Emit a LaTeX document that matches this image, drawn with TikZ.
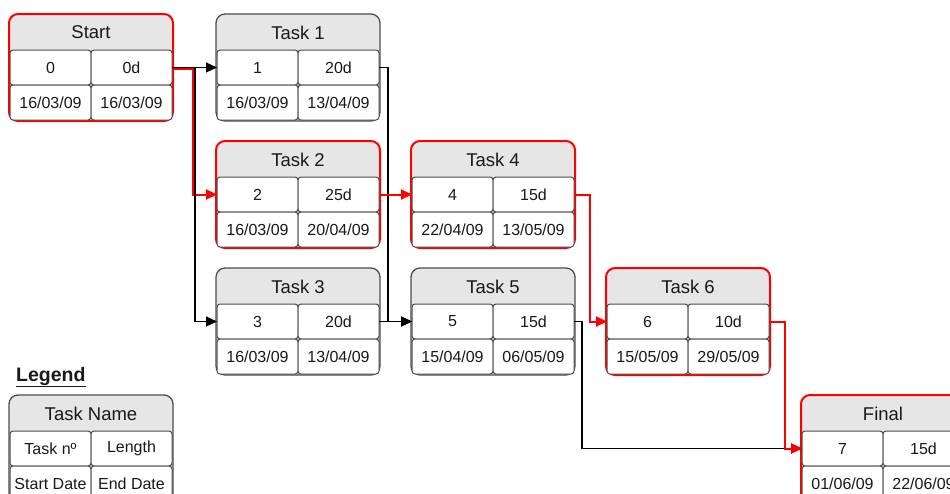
\documentclass[tikz,border=0pt]{standalone}
\usepackage{fontspec}
\setmainfont{Liberation Sans}
\usetikzlibrary{arrows.meta}

\definecolor{critred}{RGB}{255,0,0}
\definecolor{boxline}{RGB}{77,77,77}
\definecolor{headfill}{RGB}{230,230,230}
\definecolor{inktext}{RGB}{25,25,25}

\tikzset{
  taskframe/.style={rectangle, rounded corners=9pt, fill=headfill, minimum width=164pt,
    minimum height=107pt, inner sep=0pt, outer sep=0pt, anchor=north west},
  plainframe/.style={taskframe, draw=boxline, line width=1.3pt},
  critframe/.style={taskframe, draw=critred, line width=2pt},
  headtext/.style={font=\fontsize{18.5}{20}\selectfont, text=inktext},
  cell/.style={rectangle, draw=boxline, fill=white, rounded corners=3pt, line width=1pt,
    minimum width=81pt, minimum height=35pt, inner sep=0pt, outer sep=0pt,
    anchor=north west, font=\fontsize{16}{18}\selectfont, text=inktext},
  link/.style={draw=black, line width=1.1pt, -{Triangle[length=11pt,width=10pt]}},
  critlink/.style={draw=critred, line width=2pt, -{Triangle[length=11pt,width=10pt]}}
}

% one task box: id, top left, name, number, length, start, end, frame style
\newcommand{\tasknet}[8]{%
  \node[#8] (#1) at (#2) {};
  \node[headtext] (#1-name) at ([yshift=-18.5pt]#1.north) {#3};
  \node[cell] (#1-num) at ([xshift=1pt,yshift=-36pt]#1.north west) {#4};
  \node[cell] (#1-len) at (#1-num.north east) {#5};
  \node[cell] (#1-sd) at (#1-num.south west) {#6};
  \node[cell] (#1-ed) at (#1-sd.north east) {#7};
}

\begin{document}
\begin{tikzpicture}[x=1pt, y=-1pt]
        \useasboundingbox (0,0) rectangle (950,493);
        \clip (0,0) rectangle (950,493);

        % 1. Task boxes of the network
        \tasknet{start}{9,14}{Start}{0}{0d}{16/03/09}{16/03/09}{critframe}
        \tasknet{t1}{216,14}{Task 1}{1}{20d}{16/03/09}{13/04/09}{plainframe}
        \tasknet{t2}{216,141}{Task 2}{2}{25d}{16/03/09}{20/04/09}{critframe}
        \tasknet{t3}{216,268}{Task 3}{3}{20d}{16/03/09}{13/04/09}{plainframe}
        \tasknet{t4}{411,141}{Task 4}{4}{15d}{22/04/09}{13/05/09}{critframe}
        \tasknet{t5}{411,268}{Task 5}{5}{15d}{15/04/09}{06/05/09}{plainframe}
        \tasknet{t6}{606,268}{Task 6}{6}{10d}{15/05/09}{29/05/09}{critframe}
        \tasknet{final}{801,395}{Final}{7}{15d}{01/06/09}{22/06/09}{critframe}

        % 2. Legend
        \node[anchor=base west, inner sep=0pt, font=\bfseries\fontsize{19.5}{22}\selectfont, text=inktext]
            (legend) at (16,381) {\underline{Legend}};
        \tasknet{key}{9,395}{Task Name}{Task nº}{Length}{Start Date}{End Date}{plainframe}

        % 3. Dependencies (critical path in red)
        \draw[critlink] ([yshift=-1pt]start-len.east) -| ([xshift=21pt]start-len.east) |- (t2-num.west);
        \draw[link] (start-len.east) -- (t1-num.west);
        \draw[link] (start-len.east) -| ([xshift=23pt]start-len.east) |- (t3-num.west);
        \draw[link] (t1-len.east) -| ([xshift=9pt]t1-len.east) |- (t5-num.west);
        \draw[link] (t3-len.east) -- (t5-num.west);
        \draw[link] (t5-len.east) -| ([xshift=8pt]t5-len.east) |- (final-num.west);
        \draw[critlink] (t2-len.east) -- (t4-num.west);
        \draw[critlink] (t4-len.east) -| ([xshift=16pt]t4-len.east) |- (t6-num.west);
        \draw[critlink] (t6-len.east) -| ([xshift=16pt]t6-len.east) |- (final-num.west);

    \end{tikzpicture}
\end{document}
